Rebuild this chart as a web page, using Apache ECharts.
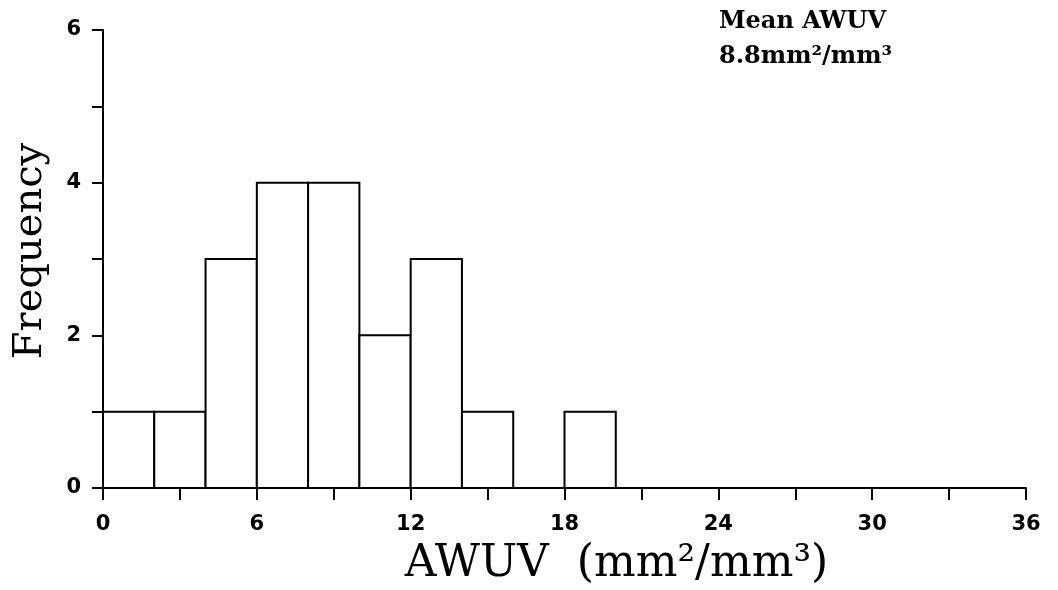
<!DOCTYPE html>
<html>
<head>
<meta charset="utf-8">
<script src="https://cdn.jsdelivr.net/npm/echarts@6/dist/echarts.min.js"></script>
<style>
html,body{margin:0;padding:0;background:#fff;}
#main{width:1058px;height:590px;}
</style>
</head>
<body>
<div id="main"></div>
<script>
// Histogram bins (AWUV, mm²/mm³) and frequencies
const binStarts = [0, 2, 4, 6, 8, 10, 12, 14, 16, 18];
const binWidth = 2;
const counts = [1, 1, 3, 4, 4, 2, 3, 1, 0, 1];
const xTickLabels = [0, 6, 12, 18, 24, 30, 36];
const yTickLabels = [0, 2, 4, 6];
const xName = 'AWUV  (mm²/mm³)';
const yName = 'Frequency';
const noteLines = ['Mean AWUV', '8.8mm²/mm³'];

const data = binStarts.map((s, i) => [s, s + binWidth, counts[i]]).filter(d => d[2] > 0);

const chart = echarts.init(document.getElementById('main'));
const tickFont = {color: '#000', fontFamily: 'DejaVu Sans', fontWeight: 'bold', fontSize: 21};
chart.setOption({
  backgroundColor: '#fff',
  animation: false,
  grid: {left: 103, right: 32, top: 30, bottom: 102, outerBoundsMode: 'none', containLabel: false},
  xAxis: {
    type: 'value', min: 0, max: 36, interval: 3,
    name: xName, nameLocation: 'middle', nameGap: 55,
    nameTextStyle: {color: '#000', fontFamily: 'DejaVu Serif', fontSize: 44, padding: [0, 0, 0, 104]},
    axisLine: {show: true, lineStyle: {color: '#000', width: 2}},
    axisTick: {show: true, length: 12, lineStyle: {color: '#000', width: 2}},
    axisLabel: Object.assign({margin: 26, formatter: v => xTickLabels.includes(v) ? String(v) : ''}, tickFont),
    splitLine: {show: false}
  },
  yAxis: {
    type: 'value', min: 0, max: 6, interval: 1,
    name: yName, nameLocation: 'middle', nameGap: 52, nameRotate: 90,
    nameTextStyle: {color: '#000', fontFamily: 'DejaVu Serif', fontSize: 40, padding: [0, 0, 0, 16]},
    axisLine: {show: true, lineStyle: {color: '#000', width: 2}},
    axisTick: {show: true, length: 11, lineStyle: {color: '#000', width: 2}},
    axisLabel: Object.assign({margin: 22, formatter: v => yTickLabels.includes(v) ? String(v) : ''}, tickFont),
    splitLine: {show: false}
  },
  graphic: [{
    type: 'text', left: 719, top: 4,
    style: {text: noteLines.join('\n'), fill: '#000', font: 'bold 24px "DejaVu Serif"', lineHeight: 35}
  }],
  series: [{
    type: 'custom',
    data: data,
    encode: {x: [0, 1], y: 2},
    renderItem: function (params, api) {
      const p0 = api.coord([api.value(0), api.value(2)]);
      const p1 = api.coord([api.value(1), 0]);
      return {
        type: 'rect',
        shape: {x: p0[0], y: p0[1], width: p1[0] - p0[0], height: p1[1] - p0[1]},
        style: {fill: '#fff', stroke: '#000', lineWidth: 2}
      };
    }
  }]
});
</script>
</body>
</html>
